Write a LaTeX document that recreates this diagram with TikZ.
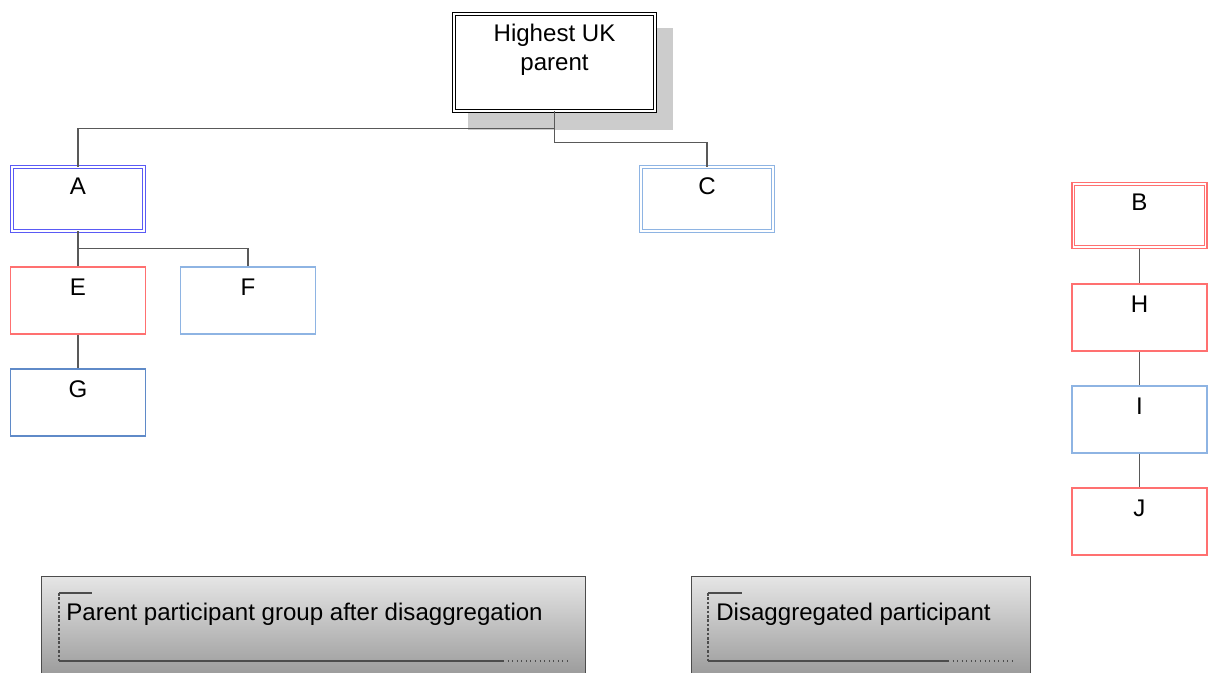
\documentclass[tikz,border=0pt]{standalone}
\usepackage{fontspec}
\setmainfont{Liberation Sans}
\usepackage{tikz}
\usetikzlibrary{backgrounds}
\definecolor{unitblue}{HTML}{5A5AF5}
\definecolor{paleblue}{HTML}{8EB4E3}
\definecolor{midblue}{HTML}{5F8AC8}
\definecolor{unitred}{HTML}{FF7070}

\begin{document}
\begin{tikzpicture}[x=0.02cm, y=-0.02cm,
    every node/.style={font=\fontsize{13.7}{16.4}\selectfont},
    unit/.style={rectangle, draw, fill=white, line width=0.6pt, minimum width=2.7cm, text height=0.35cm, text depth=0.57cm, inner ysep=0.21cm, inner xsep=0pt},
    dunit/.style={unit, double=white, double distance=1.2pt, line width=0.5pt, minimum width=2.64cm, text depth=0.55cm, inner ysep=0.19cm},
    link/.style={draw=black!65, line width=0.6pt},
    keybox/.style={rectangle, draw=black!70, line width=0.6pt, top color=black!10, bottom color=black!44, minimum height=2.3cm, anchor=north west},
    keyline/.style={draw=black!70, line width=0.6pt}
]
\useasboundingbox (0,0) rectangle (1208,673);
\clip (0,0) rectangle (1208,673);
% group tree
\node[rectangle, draw, double=white, double distance=1.2pt, line width=0.5pt, fill=white, minimum width=4.02cm, minimum height=1.94cm] (top) at (554.5,62.5) {};
\begin{scope}[on background layer]
\fill[black!20] ([shift={(14,14)}]top.north west) rectangle ([shift={(18,19)}]top.south east);
\end{scope}
\node[anchor=north, align=center, inner sep=0pt] (toptext) at ([yshift=-0.21cm]top.north) {Highest UK\\parent};
\node[dunit, draw=unitblue] (unitA) at (78,199) {A};
\node[dunit, draw=paleblue] (unitC) at (707,199) {C};
\node[unit, draw=unitred] (unitE) at (78,300.5) {E};
\node[unit, draw=paleblue] (unitF) at (248,300.5) {F};
\node[unit, draw=midblue] (unitG) at (78,402.5) {G};
\draw[link] (top.south) -- ++(0,17) -| (unitA.north);
\draw[link] (top.south) -- ++(0,31) -| (unitC.north);
\draw[link] (unitA.south) -- ++(0,17) -| (unitF.north);
\draw[link] (unitA) -- (unitE);
\draw[link] (unitE) -- (unitG);
% disaggregated chain
\node[unit, draw=unitred, text depth=0.56cm, inner ysep=0.2cm] (unitB) at (1139.5,215.5) {B};
\draw[unitred, line width=0.5pt] ([shift={(3,3)}]unitB.north west) rectangle ([shift={(-3,-3)}]unitB.south east);
\node[unit, draw=unitred] (unitH) at (1139.5,317.5) {H};
\node[unit, draw=paleblue] (unitI) at (1139.5,419.5) {I};
\node[unit, draw=unitred] (unitJ) at (1139.5,521.5) {J};
\foreach \upper/\lower in {unitB/unitH, unitH/unitI, unitI/unitJ}
    \draw[link] (\upper) -- (\lower);
% key
\node[keybox, minimum width=10.88cm] (keyparent) at (41,576) {};
\node[anchor=base west, inner sep=0pt] (keyparenttext) at (66,620) {Parent participant group after disaggregation};
\draw[keyline] (59,593) -- (92,593);
\draw[keyline, dash pattern=on 1.5pt off 1pt] (59,593) -- (59,661);
\draw[keyline] (59,661) -- (503,661);
\draw[keyline, dotted] (503,661) -- (567,661);
\node[keybox, minimum width=6.78cm] (keydis) at (691,576) {};
\node[anchor=base west, inner sep=0pt] (keydistext) at (716,620) {Disaggregated participant};
\draw[keyline] (708,593) -- (742,593);
\draw[keyline, dash pattern=on 1.5pt off 1pt] (708,593) -- (708,661);
\draw[keyline] (708,661) -- (948,661);
\draw[keyline, dotted] (948,661) -- (1012,661);
\end{tikzpicture}
\end{document}
